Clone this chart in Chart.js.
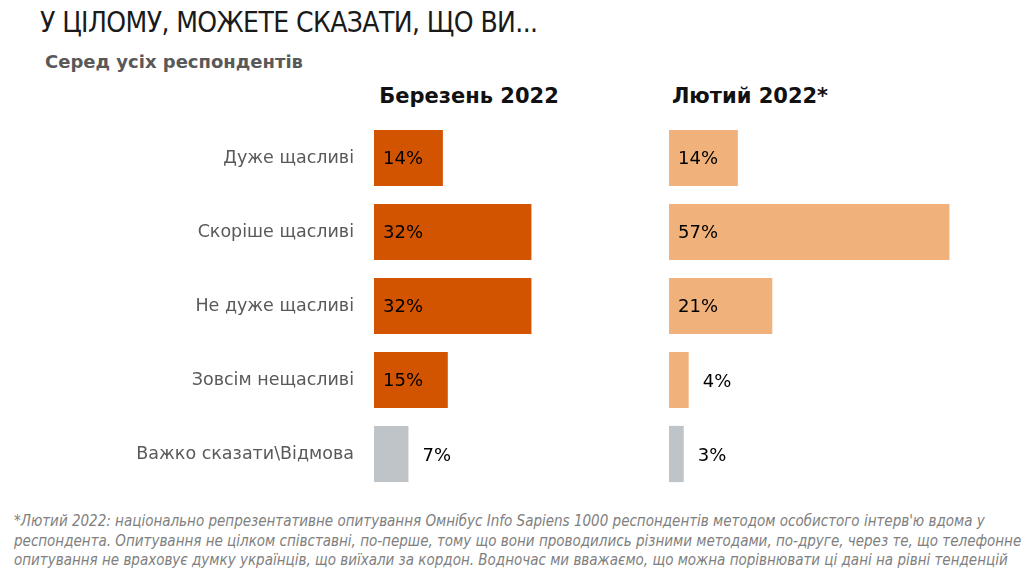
<!DOCTYPE html>
<html>
<head>
<meta charset="utf-8">
<script src="https://cdn.jsdelivr.net/npm/chart.js@4"></script>
<style>
  body { margin: 0; width: 1034px; height: 578px; background: #fff; position: relative; overflow: hidden; font-family: "DejaVu Sans", sans-serif; }
  .title { position: absolute; left: 40px; top: 6px; font-family: "DejaVu Sans"; font-stretch: condensed; font-size: 28px; letter-spacing: -0.6px; color: #1a1a1a; white-space: nowrap; }
  .subtitle { position: absolute; left: 45px; top: 51px; font-weight: bold; font-size: 18px; color: #595959; }
  .head { position: absolute; top: 84px; font-weight: bold; font-size: 21px; color: #111; text-align: center; width: 300px; }
  .note { position: absolute; left: 14px; top: 512px; font-family: "DejaVu Sans"; font-stretch: condensed; font-style: italic; font-size: 15px; line-height: 19.5px; color: #808080; white-space: nowrap; }
  canvas { position: absolute; }
</style>
</head>
<body>
<div class="title">У ЦІЛОМУ, МОЖЕТЕ СКАЗАТИ, ЩО ВИ...</div>
<div class="subtitle">Серед усіх респондентів</div>
<div class="head" style="left:319px">Березень 2022</div>
<div class="head" style="left:600px">Лютий 2022*</div>
<canvas id="march"></canvas>
<canvas id="feb"></canvas>
<div class="note">*Лютий 2022: національно репрезентативне опитування Омнібус Info Sapiens 1000 респондентів методом особистого інтерв'ю вдома у<br>респондента. Опитування не цілком співставні, по-перше, тому що вони проводились різними методами, по-друге, через те, що телефонне<br>опитування не враховує думку українців, що виїхали за кордон. Водночас ми вважаємо, що можна порівнювати ці дані на рівні тенденцій</div>
<script>
const categories = ['Дуже щасливі', 'Скоріше щасливі', 'Не дуже щасливі', 'Зовсім нещасливі', 'Важко сказати\\Відмова'];
const march2022 = [14, 32, 32, 15, 7];
const feb2022 = [14, 57, 21, 4, 3];

const marchColors = ['#D35400', '#D35400', '#D35400', '#D35400', '#BFC4C9'];
const febColors = ['#F0B27A', '#F0B27A', '#F0B27A', '#F0B27A', '#BFC4C9'];

const PX_PER_PCT = 4.92;

// labels: inside the bar when it is wide, to the right otherwise
const valueLabels = {
    id: 'valueLabels',
    afterDatasetsDraw(chart) {
        const ctx = chart.ctx;
        const meta = chart.getDatasetMeta(0);
        const data = chart.data.datasets[0].data;
        ctx.save();
        ctx.font = '18px "DejaVu Sans", sans-serif';
        ctx.fillStyle = '#000';
        ctx.textBaseline = 'middle';
        meta.data.forEach((bar, i) => {
            const v = data[i];
            const inside = v >= 10;
            const x = inside ? bar.base + 9 : bar.x + 14;
            ctx.fillText(v + '%', x, bar.y + (inside ? 1 : 2));
        });
        ctx.restore();
    }
};

function makeChart(id, left, width, values, colors, showLabels) {
    const canvas = document.getElementById(id);
    canvas.style.left = left + 'px';
    canvas.style.top = '121px';
    canvas.width = width;
    canvas.height = 370;
    const axisWidth = showLabels ? 374 - left : 0;
    return new Chart(canvas, {
        type: 'bar',
        data: {
            labels: categories,
            datasets: [{
                data: values,
                backgroundColor: colors,
                barPercentage: 0.76,
                categoryPercentage: 1
            }]
        },
        options: {
            indexAxis: 'y',
            responsive: false,
            animation: false,
            layout: { padding: 0 },
            plugins: { legend: { display: false }, tooltip: { enabled: false } },
            scales: {
                x: {
                    display: false,
                    min: 0,
                    max: (width - axisWidth) / PX_PER_PCT
                },
                y: {
                    display: showLabels,
                    grid: { display: false, drawTicks: false, tickLength: 0 },
                    border: { display: false },
                    ticks: {
                        color: '#595959',
                        font: { family: 'DejaVu Sans', size: 17.5 },
                        padding: 20
                    },
                    afterFit(scale) {
                        scale.width = axisWidth;
                        scale.paddingTop = 0;
                        scale.paddingBottom = 0;
                    }
                }
            }
        },
        plugins: [valueLabels]
    });
}

makeChart('march', 0, 640, march2022, marchColors, true);
makeChart('feb', 669, 340, feb2022, febColors, false);
</script>
</body>
</html>
